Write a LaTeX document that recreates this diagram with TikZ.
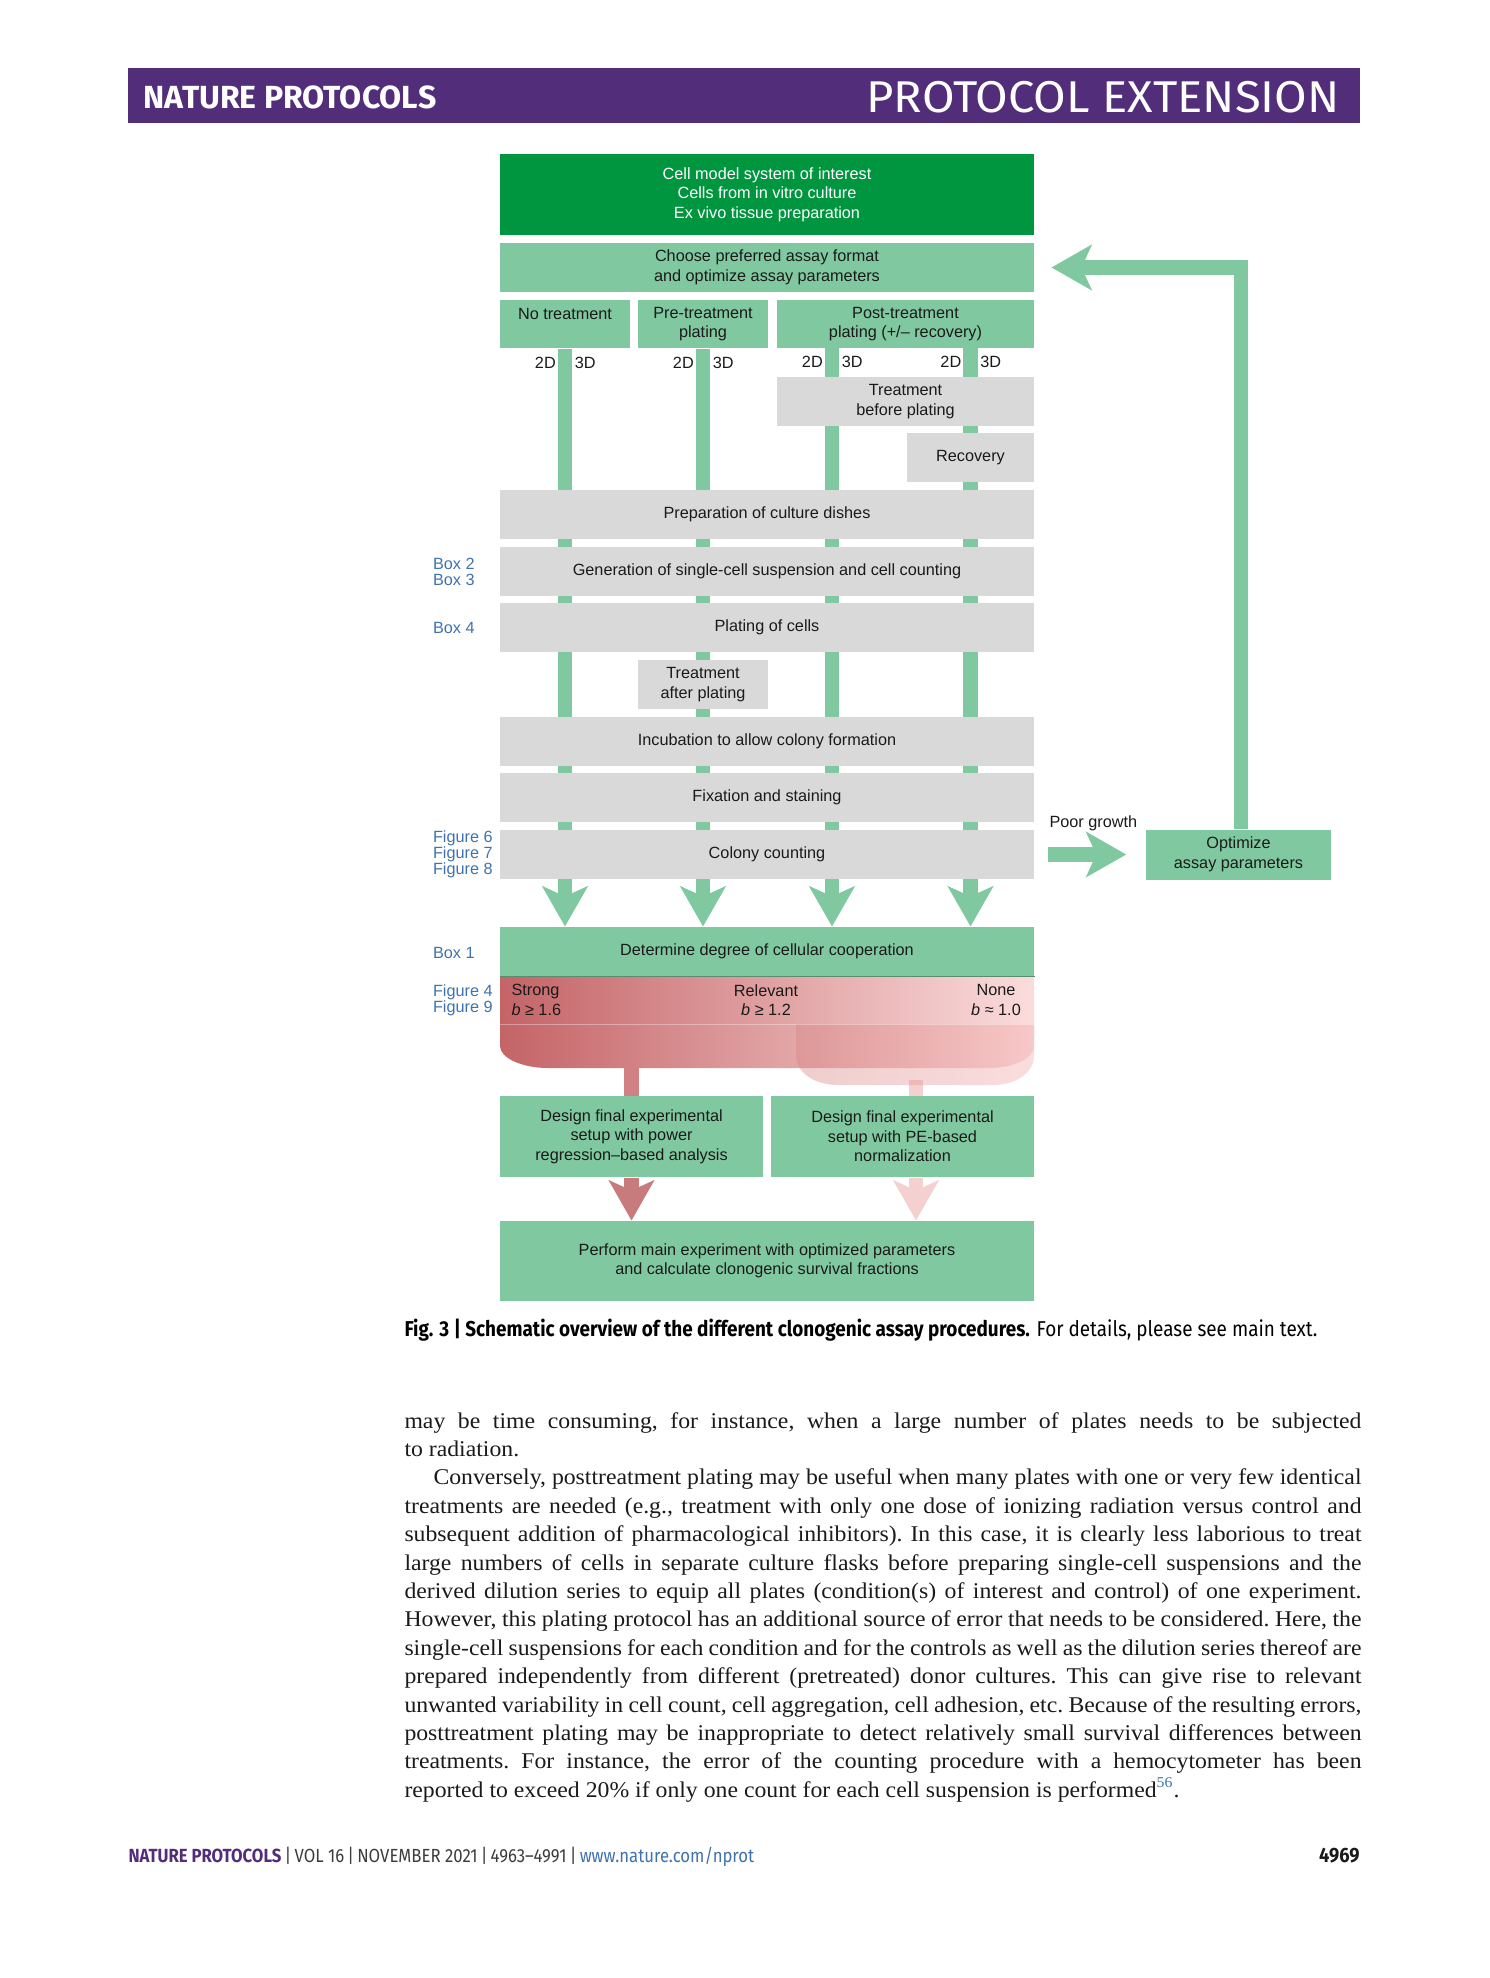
\documentclass[tikz,border=0pt]{standalone}
\usepackage{fontspec}
\setmainfont{Liberation Serif}
\setsansfont{Liberation Sans}
\newfontfamily\firafont{Fira Sans}
\newfontfamily\widefira[FakeStretch=1.06]{Fira Sans}
\newfontfamily\capfont[FakeStretch=0.88]{Fira Sans}
\newfontfamily\bodyfont[FakeStretch=1.055]{Liberation Serif}
\usetikzlibrary{arrows.meta,backgrounds}

\definecolor{navbar}{HTML}{522D7A}
\definecolor{deepgreen}{HTML}{00953F}
\definecolor{mint}{HTML}{80C9A0}
\definecolor{pale}{HTML}{D9D9D9}
\definecolor{refblue}{HTML}{3F72AF}
\definecolor{coopL}{HTML}{C46467}
\definecolor{coopR}{HTML}{FBDCDC}
\definecolor{branchL}{HTML}{D78282}
\definecolor{branchR}{HTML}{F2AAAA}
\definecolor{stemred}{HTML}{D18183}
\definecolor{stempink}{HTML}{F4D0D0}
\definecolor{ink}{HTML}{1A1A1A}

\newcommand\diagfont{\sffamily\fontsize{6.5}{7.8}\selectfont}
\newcommand\jline[1]{\hbox to 382.8pt{#1}}

\tikzset{
  greenbox/.style={rectangle, fill=mint, inner sep=0pt, align=center, text=ink, font=\diagfont, minimum height=19.6pt},
  graybox/.style={greenbox, fill=pale},
  lbl/.style={inner sep=0pt, text=ink, font=\diagfont},
  sidelbl/.style={inner sep=0pt, anchor=west, align=left, text=refblue, font=\sffamily\fontsize{6.5}{6.4}\selectfont},
  pipe/.style={draw=mint, line width=5.8pt},
  fat/.style={-{Stealth[length=16pt,width=18pt,inset=4pt]}},
}

\begin{document}
\begin{tikzpicture}[x=0.4pt, y=-0.4pt]
\useasboundingbox (0,0) rectangle (1489,1978);
% page head
\node[fill=navbar, minimum width=492.8pt, minimum height=21.9pt, inner sep=0pt] (headbar) at (744,95.4) {};
\node[anchor=base west, inner sep=0pt, text=white, font=\firafont\bfseries\fontsize{12.8}{14}\selectfont] (journal) at (143,108.3) {NATURE PROTOCOLS};
\node[anchor=base east, inner sep=0pt, text=white, font=\widefira\fontsize{17.8}{20}\selectfont] (section) at (1340,112.7) {PROTOCOL EXTENSION};

% flow chart
\node[greenbox, fill=deepgreen, text=white, minimum width=213.6pt, minimum height=32.4pt] (model) at (767,194.5) {Cell model system of interest\\Cells from in vitro culture\\Ex vivo tissue preparation};
\node[greenbox, minimum width=213.6pt] (choose) at (767,267.5) {Choose preferred assay format\\and optimize assay parameters};
\node[greenbox, minimum width=52pt, minimum height=19.2pt] (none) at (565,324) {No treatment\\\mbox{}};
\node[greenbox, minimum width=52pt, minimum height=19.2pt] (pre) at (703,324) {Pre-treatment\\plating};
\node[greenbox, minimum width=102.8pt, minimum height=19.2pt] (post) at (905.5,324) {Post-treatment\\plating (+/– recovery)};
\coordinate (b3) at (832,348);
\coordinate (b4) at (970.5,348);
\node[graybox, minimum width=102.8pt] (before) at (905.5,401.5) {Treatment\\before plating};
\node[graybox, minimum width=50.8pt] (recovery) at (970.5,457.5) {Recovery};
\foreach \name/\y/\txt in {prep/514.5/Preparation of culture dishes, gen/571.5/Generation of single-cell suspension and cell counting, plating/627.5/Plating of cells, incub/741.5/Incubation to allow colony formation, fix/797.5/Fixation and staining, count/854.5/Colony counting}
  \node[graybox, minimum width=213.6pt] (\name) at (767,\y) {\txt};
\node[graybox, minimum width=52pt] (after) at (703,684.5) {Treatment\\after plating};
\node[greenbox, minimum width=213.6pt] (coop) at (767,951.5) {Determine degree of cellular cooperation};
\node[greenbox, minimum width=105.2pt, minimum height=32.4pt] (designL) at (631.5,1136.5) {Design final experimental\\setup with power\\regression–based analysis};
\node[greenbox, minimum width=105.2pt, minimum height=32.4pt] (designR) at (902.5,1136.5) {Design final experimental\\setup with PE-based\\normalization};
\node[greenbox, minimum width=213.6pt, minimum height=32pt] (perform) at (767,1261) {Perform main experiment with optimized parameters\\and calculate clonogenic survival fractions};
\node[greenbox, minimum width=74pt, minimum height=20pt] (optimize) at (1238.5,854.5) {Optimize\\assay parameters};
\node[lbl, anchor=west] (poor) at (1049,823) {Poor growth};

% 2D / 3D tags beside the four lanes
\foreach \src/\k in {none.south/1, pre.south/2, b3/3, b4/4} {
  \node[lbl, anchor=east] (twod\k) at ([xshift=-3.5pt, yshift=-5.6pt]\src) {2D};
  \node[lbl, anchor=west] (threed\k) at ([xshift=3.7pt, yshift=-5.6pt]\src) {3D};
}

% cooperation band and branches
\coordinate (fanL) at (631.5,1060);
\coordinate (fanR) at (916,1080);
\begin{pgfonlayer}{background}
  \foreach \src in {none.south, pre.south, b3, b4}
    \draw[pipe, fat] (\src) -- (\src |- coop.north);
  \draw[draw=stemred, line width=5.8pt] (fanL) -- (fanL |- designL.north);
  \draw[draw=stempink, line width=5.8pt] (fanR) -- (fanR |- designR.north);
\end{pgfonlayer}
\shade[left color=coopL, right color=coopR] (500,976) -- (1034,976) -- (1034,1046) .. controls (1034,1058) and (1014,1068) .. (989,1068) -- (548,1068) .. controls (522,1068) and (500,1058) .. (500,1046) -- cycle;
\shade[left color=branchL, right color=branchR, opacity=0.4] (796,1024) -- (1034,1024) -- (1034,1056) .. controls (1034,1072) and (1017,1085) .. (993,1085) -- (838,1085) .. controls (814,1085) and (796,1072) .. (796,1056) -- cycle;
\draw[white, opacity=0.35, line width=0.4pt] (coop.south west) ++(0,48) -- ++(534,0);
\draw[mint!70!black, line width=0.4pt] (coop.south west) -- (coop.south east);
\node[lbl, anchor=west, align=left] (strong) at (511,1000) {Strong\\\textit{b} ≥ 1.6};
\node[lbl, align=center] (relevant) at (766,1000) {Relevant\\\textit{b} ≥ 1.2};
\node[lbl, align=center] (nocoop) at (996,1000) {None\\\textit{b} ≈ 1.0};
\draw[draw=stemred!95!black, line width=5.8pt, fat] (designL.south) -- (designL.south |- perform.north);
\draw[draw=stempink, line width=5.8pt, fat] (fanR |- designR.south) -- (fanR |- perform.north);

% loop back for poor growth
\draw[pipe, fat] ([xshift=5.5pt]count.east |- optimize.west) -- ([xshift=-7.7pt]optimize.west);
\draw[pipe, fat, line join=miter] ([xshift=1pt]optimize.north) |- ([xshift=6.8pt]choose.east);

% references on the left
\node[sidelbl] (refgen) at (432.5,572) {Box 2\\Box 3};
\node[sidelbl] (refplate) at (432.5,627.5) {Box 4};
\node[sidelbl] (refcount) at (432.5,854) {Figure 6\\Figure 7\\Figure 8};
\node[sidelbl] (refcoop) at (432.5,953) {Box 1};
\node[sidelbl] (refband) at (432.5,1000) {Figure 4\\Figure 9};

% caption, text, foot
\node[anchor=base west, inner sep=0pt, font=\capfont\fontsize{8.6}{10}\selectfont] (caption) at (404,1336) {\textbf{Fig. 3 | Schematic overview of the different clonogenic assay procedures.} For details, please see main text.};
\node[anchor=base west, inner sep=0pt, text=ink] (body) at (404,1428) {\parbox[t]{382.8pt}{\bodyfont\fontsize{9}{11.36}\selectfont\frenchspacing\hbadness=10000
\jline{may be time consuming, for instance, when a large number of plates needs to be subjected}
\hbox{to radiation.}
\jline{\hskip 11.6pt Conversely, posttreatment plating may be useful when many plates with one or very few identical}
\jline{treatments are needed (e.g., treatment with only one dose of ionizing radiation versus control and}
\jline{subsequent addition of pharmacological inhibitors). In this case, it is clearly less laborious to treat}
\jline{large numbers of cells in separate culture flasks before preparing single-cell suspensions and the}
\jline{derived dilution series to equip all plates (condition(s) of interest and control) of one experiment.}
\jline{However, this plating protocol has an additional source of error that needs to be considered. Here, the}
\jline{single-cell suspensions for each condition and for the controls as well as the dilution series thereof are}
\jline{prepared independently from different (pretreated) donor cultures. This can give rise to relevant}
\jline{unwanted variability in cell count, cell aggregation, cell adhesion, etc. Because of the resulting errors,}
\jline{posttreatment plating may be inappropriate to detect relatively small survival differences between}
\jline{treatments. For instance, the error of the counting procedure with a hemocytometer has been}
\hbox{reported to exceed 20\% if only one count for each cell suspension is performed\textsuperscript{\textcolor{refblue}{56}}.}}};
\node[anchor=base west, inner sep=0pt, text=ink!85, font=\capfont\fontsize{7.6}{8}\selectfont] (foot) at (128,1862) {\textcolor{navbar}{\textbf{NATURE PROTOCOLS}}\,|\,VOL 16\,|\,NOVEMBER 2021\,|\,4963–4991\,|\,\textcolor{refblue}{www.nature.com/nprot}};
\node[anchor=base east, inner sep=0pt, text=ink, font=\capfont\bfseries\fontsize{8.3}{9}\selectfont] (pagenum) at (1360,1862) {4969};
\end{tikzpicture}
\end{document}
